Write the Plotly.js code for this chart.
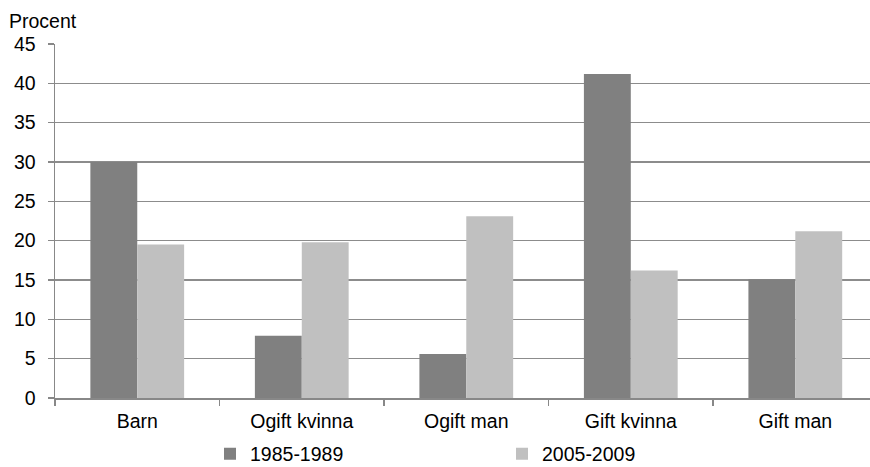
<!DOCTYPE html>
<html>
<head>
<meta charset="utf-8">
<script src="https://cdn.plot.ly/plotly-3.0.1.min.js"></script>
<style>html,body{margin:0;padding:0;background:#fff;}#chart{width:870px;height:467px;}</style>
</head>
<body>
<div id="chart"></div>
<script>
const categories = ["Barn", "Ogift kvinna", "Ogift man", "Gift kvinna", "Gift man"];
const series1Name = "1985-1989";
const series1 = [30.0, 7.9, 5.6, 41.2, 15.1];
const series2Name = "2005-2009";
const series2 = [19.5, 19.8, 23.1, 16.2, 21.2];
const yTicks = [0, 5, 10, 15, 20, 25, 30, 35, 40, 45];

const font = {family: "Liberation Sans, Arial, sans-serif", size: 19.5, color: "#000"};

const traces = [
  {type: "bar", name: series1Name, x: categories, y: series1, marker: {color: "#808080"}},
  {type: "bar", name: series2Name, x: categories, y: series2, marker: {color: "#c0c0c0"}}
];

const W = 870, H = 467, plotW = 815, plotH = 355;

const layout = {
  width: W, height: H,
  margin: {l: 55, r: 0, t: 43.5, b: 68.5},
  paper_bgcolor: "#fff", plot_bgcolor: "#fff",
  font: font,
  barmode: "group",
  bargap: 0.43,
  bargroupgap: 0,
  showlegend: true,
  legend: {
    orientation: "h",
    xref: "container", x: 210 / W, xanchor: "left",
    yref: "container", y: 1 - 454 / H, yanchor: "middle",
    entrywidth: 247, entrywidthmode: "pixels",
    font: font, traceorder: "normal"
  },
  xaxis: {
    type: "category",
    range: [-0.5, 4.454],
    showline: true, linecolor: "#888", linewidth: 1.5,
    ticks: "outside", ticklen: 6, tickcolor: "#888", tickwidth: 1.5,
    tickson: "boundaries",
    ticklabelstandoff: 5,
    showgrid: false,
    tickfont: font,
    fixedrange: true
  },
  yaxis: {
    range: [0, 45],
    tickvals: yTicks,
    ticktext: yTicks.map(String),
    showline: true, linecolor: "#888", linewidth: 1.5,
    ticks: "outside", ticklen: 6, tickcolor: "#888", tickwidth: 1.5,
    ticklabelstandoff: 8,
    showgrid: true, gridcolor: "#8c8c8c", gridwidth: 1.5,
    zeroline: false,
    tickfont: font,
    fixedrange: true
  },
  annotations: [{
    text: "Procent", xref: "paper", yref: "paper",
    x: -48 / plotW, xanchor: "left", y: 1, yanchor: "bottom", yshift: 10,
    showarrow: false, font: font
  }]
};

Plotly.newPlot("chart", traces, layout, {displayModeBar: false, staticPlot: true});
</script>
</body>
</html>
